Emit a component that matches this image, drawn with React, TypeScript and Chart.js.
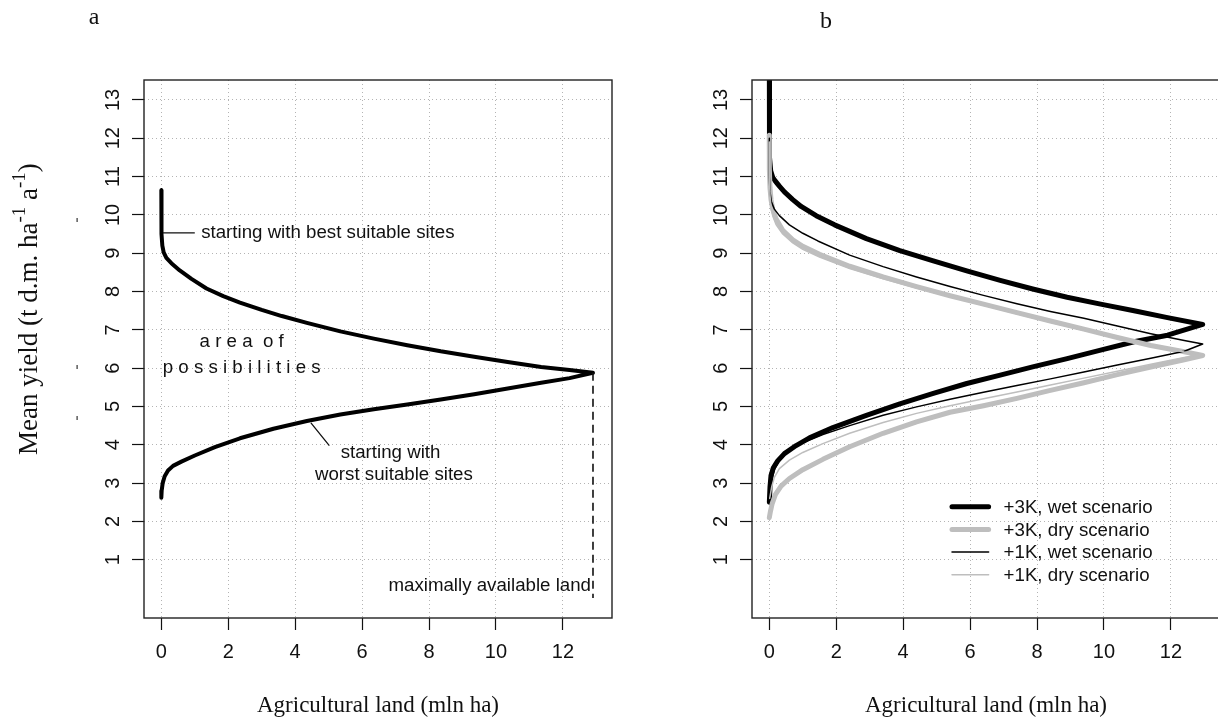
import React, { useEffect, useRef } from "react";
import { Chart, registerables } from "chart.js";

Chart.register(...registerables);

const SANS = '"Liberation Sans", Arial, Helvetica, sans-serif';
const SERIF = '"Liberation Serif", "Times New Roman", Times, serif';
const GREY = "#bebebe";
const INK = "#111111";

// ---------- shared axes ----------
const X_MIN = -0.518;
const X_MAX = 13.468;
const Y_MIN = -0.52;
const Y_MAX = 13.52;
const xTicks = [0, 2, 4, 6, 8, 10, 12];
const yTicks = [1, 2, 3, 4, 5, 6, 7, 8, 9, 10, 11, 12, 13];
const xTitle = "Agricultural land (mln ha)";
const yTitleParts = ["Mean yield (t d.m. ha", "-1", " a", "-1", ")"];
const panelLabels = ["a", "b"];

// ---------- panel a ----------
const landA = [
  0, 0, 0.01, 0.03, 0.07, 0.15, 0.3, 0.55, 0.9, 1.35, 1.85, 2.35, 3.0, 3.6, 4.35, 5.35, 6.35, 7.35, 8.35, 9.35,
  10.35, 11.35, 12.2, 12.9,
  12.2, 11.35, 10.35, 9.35, 8.35, 7.35, 6.35, 5.35, 4.35, 3.35, 2.35, 1.6, 1.0, 0.6, 0.35, 0.2, 0.1, 0.04, 0.01, 0,
];
const yieldA = [
  10.64, 10.0, 9.5, 9.2, 9.02, 8.88, 8.74, 8.55, 8.33, 8.08, 7.88, 7.71, 7.52, 7.36, 7.18, 6.96, 6.77, 6.6, 6.44, 6.3,
  6.16, 6.03, 5.95, 5.88,
  5.74, 5.62, 5.47, 5.32, 5.18, 5.05, 4.93, 4.79, 4.62, 4.42, 4.17, 3.94, 3.72, 3.56, 3.45, 3.33, 3.18, 3.0, 2.8, 2.62,
];
const annotBest = "starting with best suitable sites";
const annotWorst = ["starting with", "worst suitable sites"];
const annotArea = ["a r e a  o f", "p o s s i b i l i t i e s"];
const annotMax = "maximally available land";

// ---------- panel b ----------
const seriesLabels = ["+3K, wet scenario", "+3K, dry scenario", "+1K, wet scenario", "+1K, dry scenario"];

const land3Kwet = [
  0, 0, 0.01, 0.04, 0.1, 0.18, 0.3, 0.45, 0.7, 0.95, 1.4, 1.95, 2.9, 3.9, 4.9, 5.9, 6.9, 7.9, 8.9, 9.9, 10.9, 11.9, 12.95,
  11.9, 10.9, 9.9, 8.9, 7.9, 6.9, 5.9, 4.9, 3.9, 2.9, 1.9, 1.2, 0.8, 0.45, 0.25, 0.12, 0.05, 0.02, 0,
];
const yield3Kwet = [
  13.9, 12.0, 11.5, 11.15, 10.98, 10.88, 10.75, 10.6, 10.4, 10.22, 9.98, 9.74, 9.38, 9.07, 8.8, 8.54, 8.29, 8.06, 7.85,
  7.67, 7.5, 7.32, 7.14,
  6.86, 6.69, 6.47, 6.25, 6.04, 5.82, 5.6, 5.34, 5.07, 4.77, 4.45, 4.18, 3.98, 3.77, 3.58, 3.4, 3.2, 2.9, 2.5,
];

const land3Kdry = [
  0, 0, 0.02, 0.05, 0.1, 0.2, 0.4, 0.7, 1.0, 1.5, 2.4, 3.4, 4.4, 5.4, 6.4, 7.4, 8.4, 9.4, 10.4, 11.4, 12.4, 12.95,
  12.4, 11.4, 10.4, 9.4, 8.4, 7.4, 6.4, 5.4, 4.4, 3.4, 2.4, 1.6, 1.0, 0.6, 0.35, 0.18, 0.08, 0.03, 0,
];
const yield3Kdry = [
  12.08, 11.2, 10.7, 10.4, 10.15, 9.9, 9.6, 9.35, 9.18, 8.97, 8.66, 8.38, 8.13, 7.89, 7.67, 7.45, 7.23, 7.02, 6.8, 6.59,
  6.43, 6.33,
  6.22, 6.03, 5.83, 5.62, 5.42, 5.21, 5.02, 4.85, 4.6, 4.3, 3.95, 3.62, 3.35, 3.12, 2.92, 2.7, 2.45, 2.25, 2.1,
];

const land1Kwet = [
  0, 0, 0.02, 0.06, 0.15, 0.3, 0.6, 1.0, 1.45, 2.4, 3.4, 4.4, 5.4, 6.4, 7.4, 8.4, 9.4, 10.4, 11.4, 12.4, 12.95,
  12.4, 11.4, 10.4, 9.4, 8.4, 7.4, 6.4, 5.4, 4.4, 3.4, 2.4, 1.6, 1.0, 0.6, 0.3, 0.15, 0.08, 0.04, 0.02,
];
const yield1Kwet = [
  12.0, 11.0, 10.6, 10.35, 10.15, 9.98, 9.74, 9.52, 9.32, 8.95, 8.65, 8.38, 8.13, 7.9, 7.68, 7.48, 7.3, 7.1, 6.9, 6.72,
  6.63,
  6.44, 6.26, 6.08, 5.9, 5.72, 5.55, 5.37, 5.19, 4.99, 4.77, 4.5, 4.27, 4.05, 3.86, 3.6, 3.35, 3.1, 2.9, 2.76,
];

const land1Kdry = [
  0, 0, 0.02, 0.05, 0.1, 0.2, 0.4, 0.7, 1.0, 1.5, 2.4, 3.4, 4.4, 5.4, 6.4, 7.4, 8.4, 9.4, 10.4, 11.4, 12.4, 12.9,
  12.4, 11.4, 10.4, 9.4, 8.4, 7.4, 6.4, 5.4, 4.4, 3.4, 2.4, 1.6, 1.0, 0.6, 0.3, 0.15, 0.07, 0.03, 0.01,
];
const yield1Kdry = [
  11.9, 11.0, 10.5, 10.2, 9.98, 9.75, 9.5, 9.27, 9.1, 8.9, 8.6, 8.33, 8.09, 7.86, 7.64, 7.42, 7.2, 6.99, 6.78, 6.58,
  6.42, 6.36,
  6.28, 6.1, 5.92, 5.74, 5.56, 5.38, 5.2, 5.02, 4.82, 4.58, 4.3, 4.03, 3.8, 3.6, 3.38, 3.15, 2.9, 2.7, 2.6,
];

// ---------- helpers ----------
const pts = (xs: number[], ys: number[]) => xs.map((x, i) => ({ x, y: ys[i] }));

function scalesFor(yAxisWidth: number) {
  const grid = {
    color: "#b4b4b4",
    lineWidth: 1,
    drawTicks: true,
    tickLength: 12,
    tickColor: INK,
    tickWidth: 1.2,
  };
  const border = { display: false, dash: [1, 3] };
  return {
    x: {
      type: "linear",
      min: X_MIN,
      max: X_MAX,
      afterBuildTicks: (s: any) => {
        s.ticks = xTicks.map((v) => ({ value: v }));
      },
      afterFit: (s: any) => {
        s.height = 104;
      },
      grid,
      border,
      ticks: {
        color: INK,
        font: { family: SANS, size: 20 },
        padding: 10,
        maxRotation: 0,
        minRotation: 0,
        autoSkip: false,
        callback: (v: any) => String(v),
      },
    },
    y: {
      type: "linear",
      min: Y_MIN,
      max: Y_MAX,
      afterBuildTicks: (s: any) => {
        s.ticks = yTicks.map((v) => ({ value: v }));
      },
      afterFit: (s: any) => {
        s.width = yAxisWidth;
      },
      grid,
      border,
      ticks: { display: false },
    },
  };
}

function drawFrame(chart: any, label: string, labelX: number, labelY: number) {
  const { ctx, chartArea: ca, scales } = chart;
  ctx.save();
  // box
  ctx.strokeStyle = "#222";
  ctx.lineWidth = 1.4;
  ctx.strokeRect(ca.left, ca.top, ca.right - ca.left, ca.bottom - ca.top);
  // rotated y tick labels
  ctx.fillStyle = INK;
  ctx.font = `20px ${SANS}`;
  ctx.textAlign = "center";
  ctx.textBaseline = "middle";
  for (const t of scales.y.ticks) {
    const py = scales.y.getPixelForValue(t.value);
    ctx.save();
    ctx.translate(ca.left - 32, py);
    ctx.rotate(-Math.PI / 2);
    ctx.fillText(String(t.value), 0, 1);
    ctx.restore();
  }
  // x title
  ctx.font = `23px ${SERIF}`;
  ctx.textAlign = "center";
  ctx.textBaseline = "middle";
  ctx.fillText(xTitle, (ca.left + ca.right) / 2, ca.bottom + 88);
  // panel label
  ctx.font = `24px ${SERIF}`;
  ctx.fillText(label, labelX, labelY);
  ctx.restore();
}

const panelAPlugin = {
  id: "panelA",
  afterDatasetsDraw(chart: any) {
    const { ctx, scales } = chart;
    const X = (v: number) => scales.x.getPixelForValue(v);
    const Y = (v: number) => scales.y.getPixelForValue(v);
    ctx.save();
    // dashed line at maximally available land
    let iMax = 0;
    landA.forEach((v, i) => {
      if (v > landA[iMax]) iMax = i;
    });
    ctx.strokeStyle = INK;
    ctx.lineWidth = 1.6;
    ctx.setLineDash([8, 5]);
    ctx.beginPath();
    ctx.moveTo(X(landA[iMax]), Y(yieldA[iMax]));
    ctx.lineTo(X(landA[iMax]), Y(0));
    ctx.stroke();
    ctx.setLineDash([]);
    // leader lines
    ctx.lineWidth = 1.3;
    ctx.beginPath();
    ctx.moveTo(X(0.05), Y(9.53));
    ctx.lineTo(X(1.0), Y(9.53));
    ctx.moveTo(X(4.47), Y(4.57));
    ctx.lineTo(X(5.02), Y(3.98));
    ctx.stroke();
    // texts
    ctx.fillStyle = INK;
    ctx.font = `18.7px ${SANS}`;
    ctx.textBaseline = "middle";
    ctx.textAlign = "left";
    ctx.fillText(annotBest, X(1.19), Y(9.53));
    ctx.textAlign = "center";
    ctx.fillText(annotWorst[0], X(6.85), Y(3.79));
    ctx.fillText(annotWorst[1], X(6.95), Y(3.22));
    ctx.fillText(annotArea[0], X(2.4), Y(6.68));
    ctx.fillText(annotArea[1], X(2.4), Y(6.02));
    ctx.textAlign = "right";
    ctx.fillText(annotMax, X(12.84), Y(0.33));
    ctx.restore();
  },
  afterDraw(chart: any) {
    const { ctx } = chart;
    drawFrame(chart, panelLabels[0], 94, 18);
    // y title (rotated, with superscripts)
    ctx.save();
    ctx.fillStyle = INK;
    ctx.translate(28, 455);
    ctx.rotate(-Math.PI / 2);
    ctx.textBaseline = "alphabetic";
    ctx.textAlign = "left";
    const T = 27;
    let pos = 0;
    yTitleParts.forEach((p, i) => {
      const sup = i % 2 === 1;
      ctx.font = `${sup ? Math.round(T * 0.72) : T}px ${SERIF}`;
      ctx.fillText(p, pos, sup ? T * 0.35 - T * 0.45 : T * 0.35);
      pos += ctx.measureText(p).width;
    });
    ctx.restore();
    // small stray marks left of the axis
    ctx.save();
    ctx.fillStyle = "#333";
    [220, 367, 418].forEach((yy) => ctx.fillRect(76.5, yy - 2, 1.2, 4));
    ctx.restore();
  },
};

const legendStyles = [
  { color: "#000000", width: 5 },
  { color: GREY, width: 5 },
  { color: "#000000", width: 1.5 },
  { color: GREY, width: 1.5 },
];

const panelBPlugin = {
  id: "panelB",
  afterDraw(chart: any) {
    const { ctx, chartArea: ca } = chart;
    drawFrame(chart, panelLabels[1], 206, 22);
    // legend (bottom right inside plot)
    ctx.save();
    const x0 = ca.left + 200;
    const y0 = ca.top + 426.7;
    const rowH = 22.7;
    ctx.font = `18.7px ${SANS}`;
    ctx.textAlign = "left";
    ctx.textBaseline = "middle";
    chart.data.datasets.forEach((ds: any, i: number) => {
      const yy = y0 + i * rowH;
      ctx.strokeStyle = ds.borderColor;
      ctx.lineWidth = ds.borderWidth;
      ctx.lineCap = "round";
      ctx.beginPath();
      ctx.moveTo(x0, yy);
      ctx.lineTo(x0 + 36.6, yy);
      ctx.stroke();
      ctx.fillStyle = INK;
      ctx.fillText(ds.label, x0 + 51.6, yy + 1);
    });
    ctx.restore();
  },
};

const lineDs = (label: string, xs: number[], ys: number[], color: string, width: number, order: number) => ({
  label,
  data: pts(xs, ys),
  borderColor: color,
  backgroundColor: color,
  borderWidth: width,
  pointRadius: 0,
  showLine: true,
  fill: false,
  tension: 0,
  borderCapStyle: "round",
  borderJoinStyle: "round",
  clip: 0,
  order,
});

const baseOptions = (yAxisWidth: number, padRight: number) => ({
  animation: false,
  responsive: false,
  events: [],
  layout: { padding: { top: 80, right: padRight, bottom: 0, left: 0 } },
  plugins: { legend: { display: false }, tooltip: { enabled: false } },
  scales: scalesFor(yAxisWidth),
});

export default function App() {
  const refA = useRef<HTMLCanvasElement | null>(null);
  const refB = useRef<HTMLCanvasElement | null>(null);

  useEffect(() => {
    const chartA = new Chart(refA.current as HTMLCanvasElement, {
      type: "scatter",
      data: {
        datasets: [lineDs("area of possibilities", landA, yieldA, "#000000", 4, 1)],
      },
      options: baseOptions(144, 8) as any,
      plugins: [panelAPlugin],
    } as any);

    const chartB = new Chart(refB.current as HTMLCanvasElement, {
      type: "scatter",
      data: {
        datasets: [
          lineDs(seriesLabels[0], land3Kwet, yield3Kwet, legendStyles[0].color, legendStyles[0].width, 4),
          lineDs(seriesLabels[1], land3Kdry, yield3Kdry, legendStyles[1].color, legendStyles[1].width, 3),
          lineDs(seriesLabels[2], land1Kwet, yield1Kwet, legendStyles[2].color, legendStyles[2].width, 2),
          lineDs(seriesLabels[3], land1Kdry, yield1Kdry, legendStyles[3].color, legendStyles[3].width, 1),
        ],
      },
      options: baseOptions(132, 0) as any,
      plugins: [panelBPlugin],
    } as any);

    return () => {
      chartA.destroy();
      chartB.destroy();
    };
  }, []);

  return (
    <div
      style={{
        position: "fixed",
        left: 0,
        top: 0,
        width: 1218,
        height: 722,
        overflow: "hidden",
        background: "#ffffff",
      }}
    >
      <canvas
        ref={refA}
        width={620}
        height={722}
        style={{ position: "absolute", left: 0, top: 0, width: 620, height: 722 }}
      />
      <canvas
        ref={refB}
        width={600}
        height={722}
        style={{ position: "absolute", left: 620, top: 0, width: 600, height: 722 }}
      />
    </div>
  );
}
